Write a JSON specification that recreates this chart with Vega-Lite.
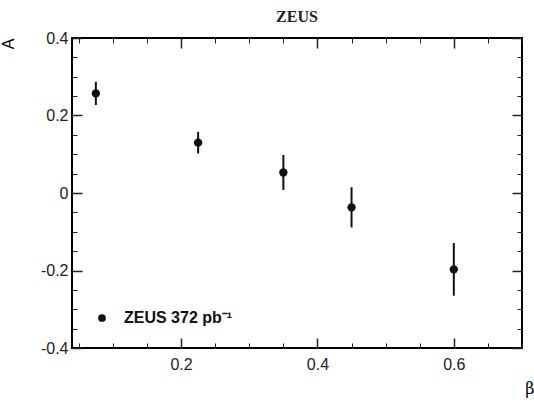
{
"$schema":"https://vega.github.io/schema/vega-lite/v6.json",
"width":450,"height":310,
"autosize":{"type":"none"},
"padding":{"left":72,"top":38,"right":12,"bottom":55},
"config":{"view":{"stroke":"black","strokeWidth":2},"axis":{"labelFont":"Liberation Sans","labelFontSize":16,"labelColor":"#222","tickColor":"#222","domain":false,"grid":false,"titleFont":"Liberation Sans"}},
"title":{"text":"ZEUS","font":"Liberation Serif","fontSize":16,"fontWeight":"bold","color":"#222","offset":5},
"data":{"values":[
{"beta":0.075,"A":0.257,"err":0.03,"s":"ZEUS 372 pb⁻¹"},
{"beta":0.225,"A":0.13,"err":0.028,"s":"ZEUS 372 pb⁻¹"},
{"beta":0.35,"A":0.053,"err":0.045,"s":"ZEUS 372 pb⁻¹"},
{"beta":0.45,"A":-0.037,"err":0.052,"s":"ZEUS 372 pb⁻¹"},
{"beta":0.6,"A":-0.197,"err":0.068,"s":"ZEUS 372 pb⁻¹"}]},
"transform":[{"calculate":"datum.A-datum.err","as":"lo"},{"calculate":"datum.A+datum.err","as":"hi"}],
"resolve":{"axis":{"x":"independent","y":"independent"}},
"layer":[
{"mark":{"type":"rule","color":"#111","strokeWidth":2},
 "encoding":{"x":{"field":"beta","type":"quantitative","scale":{"domain":[0.04,0.7],"nice":false,"zero":false},
   "axis":{"orient":"bottom","values":[0.2,0.4,0.6],"tickSize":-10,"tickWidth":1.5,"labelPadding":18,"title":"β","titleFont":"DejaVu Serif","titleFontSize":16,"titleFontWeight":"normal","titleAnchor":"end","titleY":40,"titleX":462,"titleBaseline":"middle"}},
  "y":{"field":"lo","type":"quantitative","scale":{"domain":[-0.4,0.4],"nice":false},
   "axis":{"orient":"left","values":[-0.4,-0.2,0,0.2,0.4],"tickSize":-10,"tickWidth":1.5,"labelPadding":14,"labelExpr":"datum.value==0?'0':''+round(datum.value*10)/10","title":"A","titleFontSize":16,"titleFontWeight":"normal","titleAnchor":"end","titleX":-56,"titleY":0}},
  "y2":{"field":"hi"}}},
{"mark":{"type":"point","filled":true,"size":70,"opacity":1},
 "encoding":{"x":{"field":"beta","type":"quantitative","axis":{"orient":"bottom","values":[0.05,0.1,0.15,0.25,0.3,0.35,0.45,0.5,0.55,0.65,0.7],"tickSize":-5,"labels":false,"title":null}},
  "y":{"field":"A","type":"quantitative","axis":{"orient":"left","values":[-0.35,-0.3,-0.25,-0.15,-0.1,-0.05,0.05,0.1,0.15,0.25,0.3,0.35],"tickSize":-5,"labels":false,"title":null}},
  "color":{"field":"s","type":"nominal","scale":{"range":["#111"]},"legend":{"title":null,"orient":"bottom-left","offset":22,"labelFont":"Liberation Sans","labelFontSize":16,"labelFontWeight":"bold","labelColor":"#111","symbolSize":60,"symbolType":"circle","labelOffset":14}}}},
{"mark":{"type":"point","opacity":0},
 "encoding":{"x":{"field":"beta","type":"quantitative","axis":{"orient":"top","values":[0.2,0.4,0.6],"tickSize":-10,"tickWidth":1.5,"labels":false,"title":null}},
  "y":{"field":"A","type":"quantitative","axis":{"orient":"right","values":[-0.4,-0.2,0,0.2,0.4],"tickSize":-10,"tickWidth":1.5,"labels":false,"title":null}}}},
{"mark":{"type":"point","opacity":0},
 "encoding":{"x":{"field":"beta","type":"quantitative","axis":{"orient":"top","values":[0.05,0.1,0.15,0.25,0.3,0.35,0.45,0.5,0.55,0.65,0.7],"tickSize":-5,"labels":false,"title":null}},
  "y":{"field":"A","type":"quantitative","axis":{"orient":"right","values":[-0.35,-0.3,-0.25,-0.15,-0.1,-0.05,0.05,0.1,0.15,0.25,0.3,0.35],"tickSize":-5,"labels":false,"title":null}}}}
]}
